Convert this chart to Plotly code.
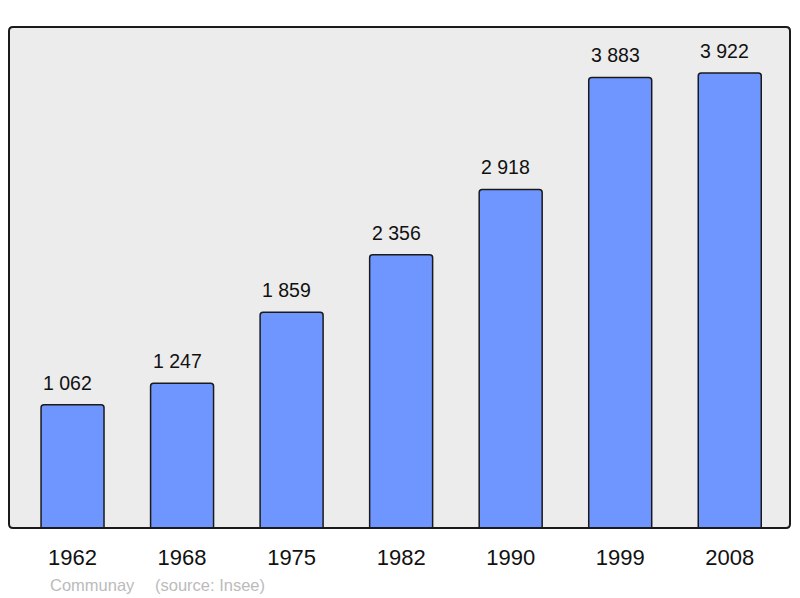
import plotly.graph_objects as go

years = ["1962", "1968", "1975", "1982", "1990", "1999", "2008"]
population = [1062, 1247, 1859, 2356, 2918, 3883, 3922]
labels = ["1 062", "1 247", "1 859", "2 356", "2 918", "3 883", "3 922"]
commune = "Communay"
source = "(source: Insee)"

# the page body has an 8px margin, so the figure is 8px smaller each way
W, H = 792, 590
L, R, T, B = 1, 10, 19, 70
pw, ph = W - L - R, H - T - B
FONT = "Liberation Sans, Arial, sans-serif"

fig = go.Figure(go.Bar(
    x=list(range(len(years))), y=population,
    marker=dict(color="#6f96ff", line=dict(color="#1a1a1a", width=1.5), cornerradius=3),
    width=0.575, hoverinfo="skip",
))

for i, (v, lab) in enumerate(zip(population, labels)):
    fig.add_annotation(x=i, y=v, text=lab, showarrow=False, yanchor="middle",
                       yshift=22, xshift=-5,
                       font=dict(family=FONT, size=19.5, color="#111"))

rx, ry = 4 / pw, 4 / ph
path = (f"M {rx},0 L {1-rx},0 Q 1,0 1,{ry} L 1,{1-ry} Q 1,1 {1-rx},1 "
        f"L {rx},1 Q 0,1 0,{1-ry} L 0,{ry} Q 0,0 {rx},0 Z")
fig.add_shape(type="path", path=path, xref="paper", yref="paper",
              line=dict(color="#1a1a1a", width=2), layer="above")

src_y = -(577 - (T + ph)) / ph
fig.add_annotation(text=commune, xref="paper", yref="paper", x=(40 - L) / pw, y=src_y,
                   xanchor="left", yanchor="middle", showarrow=False,
                   font=dict(family=FONT, size=16.5, color="#bbbbbb"))
fig.add_annotation(text=source, xref="paper", yref="paper", x=(145 - L) / pw, y=src_y,
                   xanchor="left", yanchor="middle", showarrow=False,
                   font=dict(family=FONT, size=16.5, color="#bbbbbb"))

fig.update_layout(
    width=W, height=H,
    margin=dict(l=L, r=R, t=T, b=B),
    paper_bgcolor="white", plot_bgcolor="#ececec",
    showlegend=False,
    font=dict(family=FONT),
    xaxis=dict(range=[-0.58, 6.55], tickmode="array",
               tickvals=list(range(len(years))), ticktext=years,
               showgrid=False, zeroline=False, ticks="", showline=False,
               tickfont=dict(size=22, color="#111"), ticklabelstandoff=14),
    yaxis=dict(range=[0, 4318], visible=False, showgrid=False),
)
fig.write_html("out.html")
